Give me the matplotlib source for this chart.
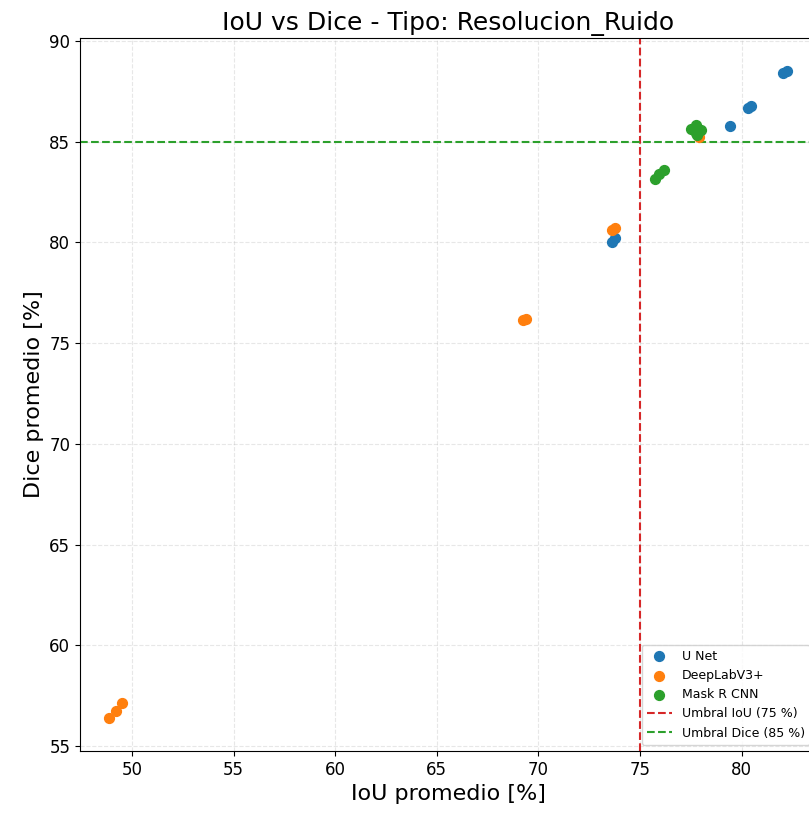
import numpy as np
import matplotlib
matplotlib.use("Agg")
import matplotlib.pyplot as plt

# IoU / Dice promedio por modelo (%)
unet_iou = [82.05, 82.2, 80.3, 80.45, 79.42, 73.6, 73.75]
unet_dice = [88.4, 88.5, 86.65, 86.78, 85.8, 80.0, 80.2]

deeplab_iou = [77.9, 73.6, 73.75, 69.25, 69.4, 48.9, 49.2, 49.5]
deeplab_dice = [85.24, 80.62, 80.72, 76.15, 76.22, 56.4, 56.73, 57.12]

mask_iou = [77.5, 77.75, 78.0, 77.75, 77.8, 75.75, 75.95, 76.15]
mask_dice = [85.65, 85.85, 85.6, 85.45, 85.35, 83.15, 83.4, 83.6]

iou_thr = 75
dice_thr = 85

fig = plt.figure(figsize=(8.09, 8.14), dpi=100)
ax = fig.add_axes([80 / 809, (814 - 751) / 814, (816 - 80) / 809, (751 - 38) / 814])

ax.scatter(unet_iou, unet_dice, s=50, color="#1f77b4", label="U Net", zorder=3)
ax.scatter(deeplab_iou, deeplab_dice, s=50, color="#ff7f0e", label="DeepLabV3+", zorder=3)
ax.scatter(mask_iou, mask_dice, s=50, color="#2ca02c", label="Mask R CNN", zorder=3)

ax.axvline(iou_thr, color="#d62728", linestyle="--", linewidth=1.5, label="Umbral IoU (75 %)")
ax.axhline(dice_thr, color="#2ca02c", linestyle="--", linewidth=1.5, label="Umbral Dice (85 %)")

ax.set_xlim(47.45, 83.65)
ax.set_ylim(54.75, 90.15)
ax.set_xticks(np.arange(50, 81, 5))
ax.set_yticks(np.arange(55, 91, 5))
ax.tick_params(labelsize=12)

ax.set_xlabel("IoU promedio [%]", fontsize=16)
ax.set_ylabel("Dice promedio [%]", fontsize=16)
ax.set_title("IoU vs Dice - Tipo: Resolucion_Ruido", fontsize=18)
ax.grid(True, linestyle="--", alpha=0.3)
ax.legend(loc="lower right", fontsize=9)

fig.savefig("out.png", dpi=100)
